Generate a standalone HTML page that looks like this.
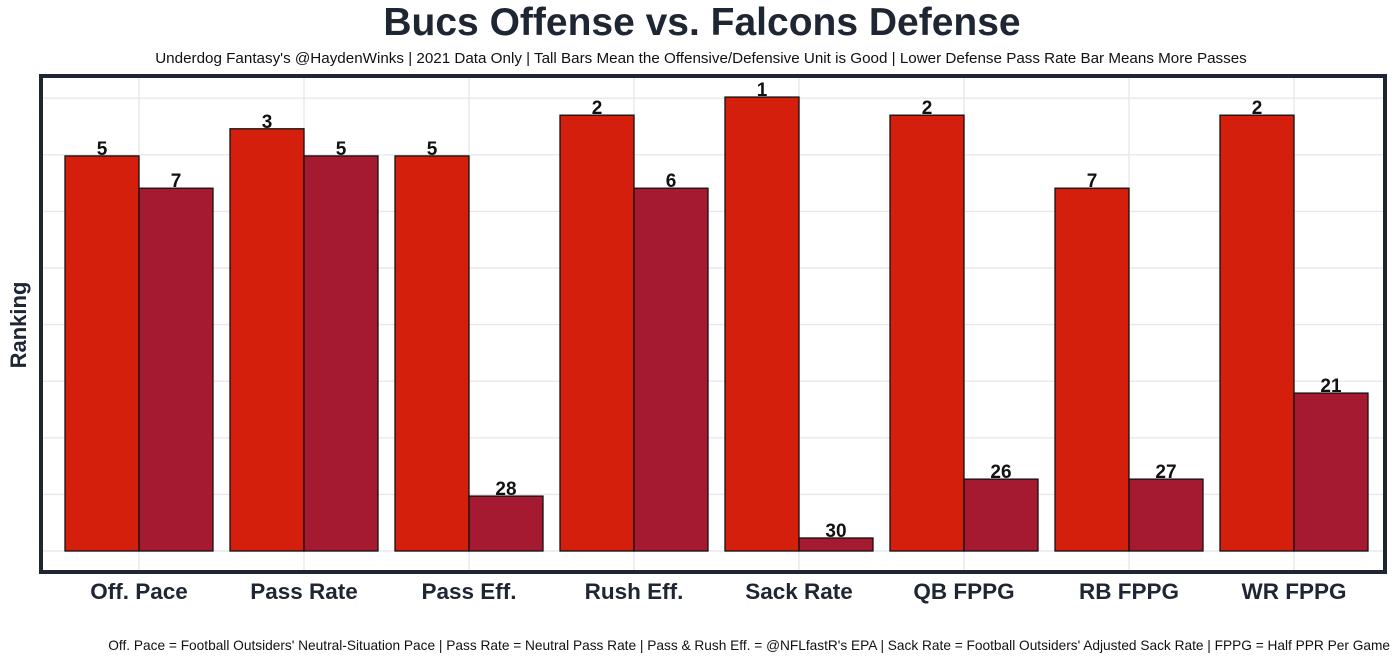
<!DOCTYPE html>
<html><head><meta charset="utf-8"><style>
body{margin:0;background:#fff;font-family:"Liberation Sans",Arial,sans-serif;}
</style></head><body>
<svg width="1400" height="661" viewBox="0 0 1400 661" xmlns="http://www.w3.org/2000/svg">
<text x="702" y="35" text-anchor="middle" font-size="39" font-weight="bold" fill="#1f2633">Bucs Offense vs. Falcons Defense</text>
<text x="701" y="63" text-anchor="middle" font-size="15.2" fill="#111">Underdog Fantasy's @HaydenWinks | 2021 Data Only | Tall Bars Mean the Offensive/Defensive Unit is Good | Lower Defense Pass Rate Bar Means More Passes</text>
<g id="grid"></g>
<g id="bars"></g>
<rect x="41" y="76" width="1344" height="496" fill="none" stroke="#1f2633" stroke-width="4"/>
<text transform="translate(26,325) rotate(-90)" text-anchor="middle" font-size="22" font-weight="bold" fill="#1f2633">Ranking</text>
<g id="xlabels"></g>
<text x="1390" y="650" text-anchor="end" font-size="13.7" fill="#111">Off. Pace = Football Outsiders' Neutral-Situation Pace | Pass Rate = Neutral Pass Rate | Pass &amp; Rush Eff. = @NFLfastR's EPA | Sack Rate = Football Outsiders' Adjusted Sack Rate | FPPG = Half PPR Per Game</text>
</svg>
<script>
const categories = ["Off. Pace","Pass Rate","Pass Eff.","Rush Eff.","Sack Rate","QB FPPG","RB FPPG","WR FPPG"];
const offenseScore = [6.98,7.46,6.98,7.70,8.02,7.70,6.41,7.70];
const defenseScore = [6.41,6.98,0.97,6.41,0.23,1.27,1.27,2.79];
const offenseRank = [5,3,5,2,1,2,7,2];
const defenseRank = [7,5,28,6,30,26,27,21];

const NS="http://www.w3.org/2000/svg";
const y0=551, unit=56.6;
function yScale(v){return y0 - v*unit;}
function xCenter(i){return 139 + 165*i;}
const barW=74;
const grid=document.getElementById('grid'), bars=document.getElementById('bars'), xl=document.getElementById('xlabels');
function mk(tag,attrs,parent){const e=document.createElementNS(NS,tag);for(const k in attrs)e.setAttribute(k,attrs[k]);parent.appendChild(e);return e;}
for(let g=0;g<=8;g+=1){
  const y=yScale(g);
  if(y<80||y>570) continue;
  const l=mk('line',{x1:43,x2:1383,y1:y,y2:y,stroke:'#e8e8ec','stroke-width':1.4},grid);
  
  
}
categories.forEach((c,i)=>{
  const cx=xCenter(i);
  const vl=mk('line',{x1:cx,x2:cx,y1:78,y2:570,stroke:'#e8e8ec','stroke-width':1.4},grid);
  
  
  const series=[[offenseScore[i],offenseRank[i],'#d41f0c',cx-barW,'offense'],[defenseScore[i],defenseRank[i],'#a51a31',cx,'defense']];
  series.forEach(([v,r,col,x,nm])=>{
    const top=yScale(v);
    const b=mk('rect',{x:x,y:top,width:barW,height:y0-top,fill:col,stroke:'#111','stroke-width':1.3},bars);
    
    
    const t=mk('text',{x:x+barW/2,y:top-1,'text-anchor':'middle','font-size':19,'font-weight':'bold',fill:'#111'},bars);
    t.textContent=r;
    
    
  });
  const t=mk('text',{x:cx,y:599,'text-anchor':'middle','font-size':22.5,'font-weight':'bold',fill:'#1f2633'},xl);
  t.textContent=c;
  
  
});
</script>
</body></html>
